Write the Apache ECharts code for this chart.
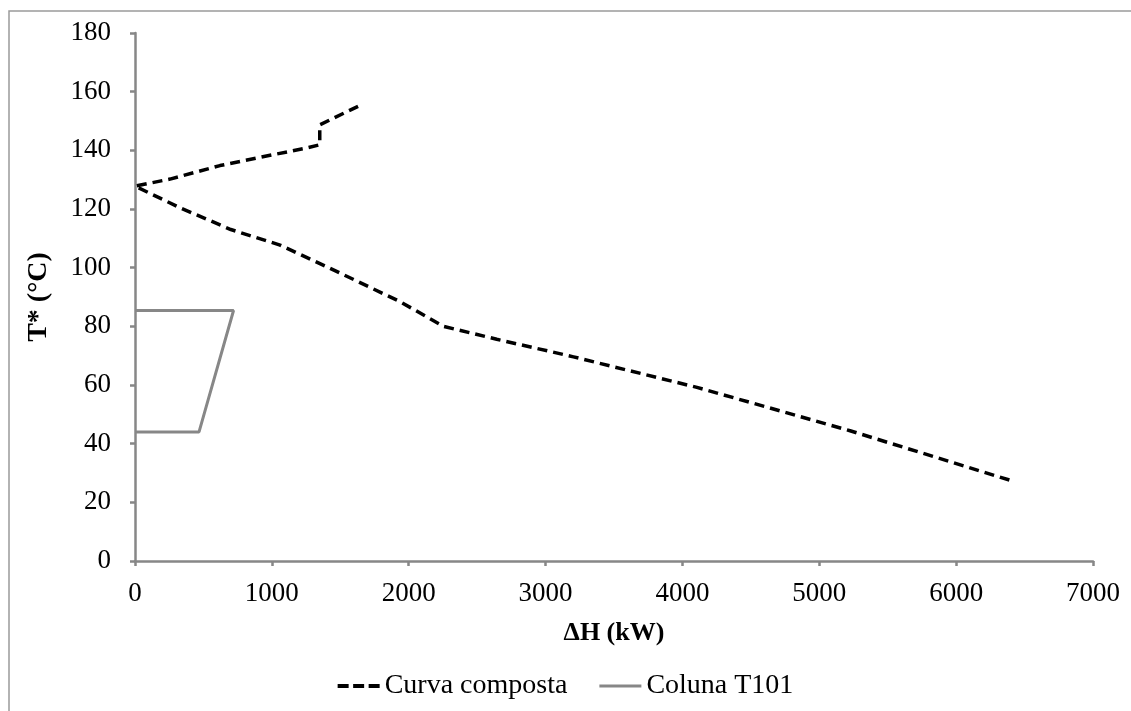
<!DOCTYPE html>
<html>
<head>
<meta charset="utf-8">
<script src="https://cdn.jsdelivr.net/npm/echarts@6/dist/echarts.min.js"></script>
<style>
  html, body { margin: 0; padding: 0; background: #fff; }
  #chart { width: 1131px; height: 711px; }
</style>
</head>
<body>
<div id="chart"></div>
<script>
// Composite curve: enthalpy (kW) and shifted temperature (°C), in drawing order
const compositeH = [1630, 1350, 1350, 1255, 987, 621, 256, 0, 330, 700, 1060, 1425, 1937, 2254, 2643, 3204, 4106, 5225, 6396];
const compositeT = [155.0, 148.7, 141.9, 140.8, 138.3, 134.8, 130.2, 127.8, 120.4, 113.0, 107.7, 99.8, 88.4, 80.0, 75.6, 69.6, 59.2, 44.4, 27.5];

// Column T101 (condenser / reboiler duties)
const columnH = [0, 720, 468, 0];
const columnT = [85.4, 85.4, 44.0, 44.0];

const seriesNames = ['Curva composta', 'Coluna T101'];
const xTitle = 'ΔH (kW)';
const yTitle = 'T* (°C)';

const pairs = (xs, ys) => xs.map((x, i) => [x, ys[i]]);

const font = 'Liberation Serif, Times New Roman, serif';
const axisGray = '#878787';

// Legend glyphs: three dashes for the composite curve, a solid bar for the column
const dashedIcon = 'path://M0,0h11v4h-11z M15.5,0h11v4h-11z M31,0h11v4h-11z';
const solidIcon = 'path://M0,0.5h42v3h-42z';

const chart = echarts.init(document.getElementById('chart'), null, { renderer: 'canvas' });
chart.setOption({
  animation: false,
  backgroundColor: '#fff',
  graphic: [{
    type: 'rect',
    shape: { x: 9, y: 11, width: 1140, height: 720 },
    style: { fill: 'none', stroke: '#9a9a9a', lineWidth: 1.5 },
    silent: true
  }],
  grid: { left: 135, right: 38, top: 33, bottom: 150, containLabel: false },
  xAxis: {
    type: 'value',
    min: 0, max: 7000, interval: 1000,
    name: xTitle,
    nameLocation: 'middle',
    nameGap: 59,
    nameTextStyle: { fontFamily: font, fontSize: 26, fontWeight: 'bold', color: '#000' },
    axisLine: { show: true, lineStyle: { color: axisGray, width: 2.5 } },
    axisTick: { show: true, length: 5, lineStyle: { color: axisGray, width: 2.5 } },
    axisLabel: { fontFamily: font, fontSize: 27, color: '#000', margin: 19, formatter: v => String(v) },
    splitLine: { show: false }
  },
  yAxis: {
    type: 'value',
    min: 0, max: 180, interval: 20,
    name: yTitle,
    nameLocation: 'middle',
    nameGap: 82,
    nameRotate: 90,
    nameTextStyle: { fontFamily: font, fontSize: 28, fontWeight: 'bold', color: '#000' },
    axisLine: { show: true, lineStyle: { color: axisGray, width: 2.5 } },
    axisTick: { show: true, length: 5, lineStyle: { color: axisGray, width: 2.5 } },
    axisLabel: { fontFamily: font, fontSize: 27, color: '#000', margin: 24, formatter: v => String(v) },
    splitLine: { show: false }
  },
  legend: {
    bottom: 6,
    left: 'center',
    itemWidth: 42,
    itemHeight: 4,
    itemGap: 32,
    textStyle: { fontFamily: font, fontSize: 28, color: '#000' },
    data: [
      { name: seriesNames[0], icon: dashedIcon, itemStyle: { color: '#000' } },
      { name: seriesNames[1], icon: solidIcon, itemStyle: { color: axisGray } }
    ]
  },
  series: [
    {
      name: seriesNames[0],
      type: 'line',
      data: pairs(compositeH, compositeT),
      symbol: 'none',
      showSymbol: false,
      color: '#000',
      lineStyle: { color: '#000', width: 3.5, type: [10, 6] }
    },
    {
      name: seriesNames[1],
      type: 'line',
      data: pairs(columnH, columnT),
      symbol: 'none',
      showSymbol: false,
      color: axisGray,
      lineStyle: { color: axisGray, width: 3 }
    }
  ]
});
</script>
</body>
</html>
